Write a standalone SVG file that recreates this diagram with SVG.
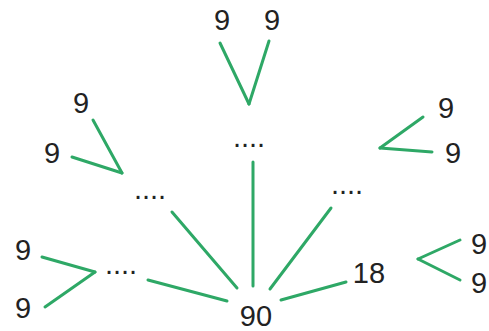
<svg xmlns="http://www.w3.org/2000/svg" width="489" height="331" viewBox="0 0 489 331">
<style>
text{font-family:"Liberation Sans",Arial,sans-serif;font-size:29px;fill:#222;text-anchor:middle}
.c line{stroke:#2ea866;stroke-width:3;stroke-linecap:round}
</style>
<rect width="489" height="331" fill="#fff"/>
<g class="c" id="connectors">
<line x1="220" y1="43" x2="249" y2="104"/>
<line x1="269" y1="41" x2="249" y2="104"/>
<line x1="253" y1="162" x2="253" y2="286"/>
<line x1="93" y1="120" x2="122" y2="173"/>
<line x1="72" y1="157" x2="122" y2="173"/>
<line x1="172" y1="212" x2="237" y2="288"/>
<line x1="42" y1="257" x2="95" y2="272"/>
<line x1="45" y1="307" x2="95" y2="272"/>
<line x1="148" y1="280" x2="227" y2="301"/>
<line x1="423" y1="117" x2="380" y2="148"/>
<line x1="432" y1="152" x2="380" y2="148"/>
<line x1="331" y1="208" x2="270" y2="289"/>
<line x1="281" y1="300" x2="346" y2="282"/>
<line x1="460" y1="240" x2="418" y2="259"/>
<line x1="460" y1="280" x2="418" y2="259"/>
</g>
<g id="n90"><text x="256" y="326">90</text></g>
<g id="n18"><text x="369" y="283">18</text></g>
<g id="dots-top"><text x="249" y="147">....</text></g>
<g id="dots-left"><text x="150" y="199">....</text></g>
<g id="dots-right"><text x="347" y="194">....</text></g>
<g id="dots-lowleft"><text x="121" y="274">....</text></g>
<g id="top-9a"><text x="222" y="30">9</text></g>
<g id="top-9b"><text x="272" y="30">9</text></g>
<g id="left-9a"><text x="81" y="113">9</text></g>
<g id="left-9b"><text x="52" y="163">9</text></g>
<g id="ll-9a"><text x="23" y="260">9</text></g>
<g id="ll-9b"><text x="23" y="318">9</text></g>
<g id="right-9a"><text x="446" y="118">9</text></g>
<g id="right-9b"><text x="453" y="163">9</text></g>
<g id="far-9a"><text x="471" y="254" style="text-anchor:start">9</text></g>
<g id="far-9b"><text x="471" y="293" style="text-anchor:start">9</text></g>
</svg>
